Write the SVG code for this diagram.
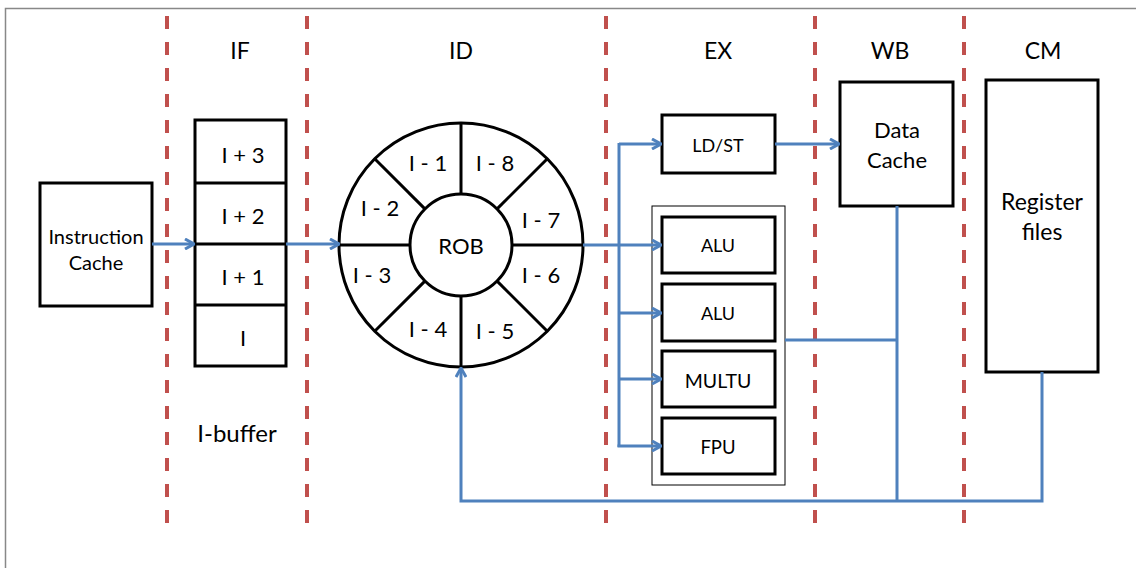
<svg xmlns="http://www.w3.org/2000/svg" width="1136" height="568" viewBox="0 0 1136 568">
<defs>
<style>
.t{font-family:Lato,"Open Sans","Liberation Sans",sans-serif;fill:#000;text-anchor:middle;dominant-baseline:central}
.box{fill:#fff;stroke:#000;stroke-width:3}
.sep{stroke:#c0504d;stroke-width:4;stroke-dasharray:13 13}
.bl{fill:none;stroke:#4f81bd;stroke-width:3}
.blk{stroke:#000;stroke-width:3;fill:none}
</style>
<marker id="ar" viewBox="0 0 12 12" refX="11" refY="6" markerWidth="12" markerHeight="12" markerUnits="userSpaceOnUse" orient="auto">
<path d="M2,1 L11,6 L2,11" fill="none" stroke="#4f81bd" stroke-width="3"/>
</marker>
</defs>
<rect x="0" y="0" width="1136" height="568" fill="#fff"/>
<path d="M5.5,568 V8.5 H1136" fill="none" stroke="#888" stroke-width="1.5"/>
<g id="separators">
<line class="sep" x1="167" y1="16" x2="167" y2="530"/>
<line class="sep" x1="307" y1="16" x2="307" y2="530"/>
<line class="sep" x1="606" y1="16" x2="606" y2="530"/>
<line class="sep" x1="815" y1="16" x2="815" y2="530"/>
<line class="sep" x1="964" y1="16" x2="964" y2="530"/>
</g>
<g id="stage-labels">
<text class="t" x="240" y="50" font-size="23">IF</text>
<text class="t" x="461" y="50" font-size="23">ID</text>
<text class="t" x="718" y="50" font-size="23">EX</text>
<text class="t" x="890" y="50" font-size="23">WB</text>
<text class="t" x="1043" y="50" font-size="23">CM</text>
</g>
<g id="instruction-cache">
<rect class="box" x="40" y="183" width="112" height="123"/>
<text class="t" x="96" y="236" font-size="20">Instruction</text>
<text class="t" x="96" y="262" font-size="20">Cache</text>
</g>
<g id="i-buffer">
<rect class="box" x="195" y="120" width="91" height="246"/>
<line class="blk" x1="195" y1="183" x2="286" y2="183"/>
<line class="blk" x1="195" y1="244" x2="286" y2="244"/>
<line class="blk" x1="195" y1="305" x2="286" y2="305"/>
<text class="t" x="243" y="154" font-size="22">I + 3</text>
<text class="t" x="243" y="215" font-size="22">I + 2</text>
<text class="t" x="243" y="276" font-size="22">I + 1</text>
<text class="t" x="243" y="337" font-size="22">I</text>
<text class="t" x="237" y="432" font-size="24">I-buffer</text>
</g>
<g id="rob">
<circle class="box" cx="461" cy="245" r="122"/>
<line class="blk" x1="512" y1="245" x2="583" y2="245"/>
<line class="blk" x1="410" y1="245" x2="339" y2="245"/>
<line class="blk" x1="461" y1="194" x2="461" y2="123"/>
<line class="blk" x1="461" y1="296" x2="461" y2="367"/>
<line class="blk" x1="497.1" y1="208.9" x2="547.3" y2="158.7"/>
<line class="blk" x1="424.9" y1="208.9" x2="374.7" y2="158.7"/>
<line class="blk" x1="497.1" y1="281.1" x2="547.3" y2="331.3"/>
<line class="blk" x1="424.9" y1="281.1" x2="374.7" y2="331.3"/>
<circle class="box" cx="461" cy="245" r="51"/>
<text class="t" x="461" y="245" font-size="22">ROB</text>
<text class="t" x="428" y="162" font-size="22">I - 1</text>
<text class="t" x="495" y="162" font-size="22">I - 8</text>
<text class="t" x="380" y="207" font-size="22">I - 2</text>
<text class="t" x="541" y="219" font-size="22">I - 7</text>
<text class="t" x="372" y="274" font-size="22">I - 3</text>
<text class="t" x="541" y="274" font-size="22">I - 6</text>
<text class="t" x="428" y="328" font-size="22">I - 4</text>
<text class="t" x="495" y="330" font-size="22">I - 5</text>
</g>
<g id="ldst">
<rect class="box" x="662" y="115" width="113" height="58"/>
<text class="t" x="718" y="145" font-size="18">LD/ST</text>
</g>
<g id="exec-units">
<rect x="652" y="206" width="133" height="279" fill="#fff" stroke="#000" stroke-width="1"/>
</g>
<g id="alu1">
<rect class="box" x="662" y="217" width="113" height="56"/>
<text class="t" x="718" y="245" font-size="18">ALU</text>
</g>
<g id="alu2">
<rect class="box" x="662" y="284" width="113" height="57"/>
<text class="t" x="718" y="313" font-size="18">ALU</text>
</g>
<g id="multu">
<rect class="box" x="662" y="351" width="113" height="56"/>
<text class="t" x="718" y="380" font-size="19.5">MULTU</text>
</g>
<g id="fpu">
<rect class="box" x="662" y="418" width="113" height="56"/>
<text class="t" x="718" y="447" font-size="18.5">FPU</text>
</g>
<g id="data-cache">
<rect class="box" x="840" y="82" width="113" height="124"/>
<text class="t" x="897" y="129" font-size="22">Data</text>
<text class="t" x="897" y="159" font-size="22">Cache</text>
</g>
<g id="register-files">
<rect class="box" x="986" y="80" width="112" height="292"/>
<text class="t" x="1042" y="201" font-size="23">Register</text>
<text class="t" x="1042" y="231" font-size="23">files</text>
</g>
<g id="connectors">
<line class="bl" x1="152" y1="244" x2="194" y2="244" marker-end="url(#ar)"/>
<line class="bl" x1="286" y1="244" x2="339" y2="244" marker-end="url(#ar)"/>
<line class="bl" x1="583" y1="245" x2="661" y2="245" marker-end="url(#ar)"/>
<line class="bl" x1="619" y1="143" x2="619" y2="447"/>
<line class="bl" x1="619" y1="144" x2="661" y2="144" marker-end="url(#ar)"/>
<line class="bl" x1="619" y1="313" x2="661" y2="313" marker-end="url(#ar)"/>
<line class="bl" x1="619" y1="379" x2="661" y2="379" marker-end="url(#ar)"/>
<line class="bl" x1="617.5" y1="446" x2="661" y2="446" marker-end="url(#ar)"/>
<line class="bl" x1="775" y1="144" x2="839" y2="144" marker-end="url(#ar)"/>
<line class="bl" x1="897" y1="206" x2="897" y2="501"/>
<line class="bl" x1="785" y1="340" x2="897" y2="340"/>
<polyline class="bl" points="1042,372 1042,501 461,501 461,368" marker-end="url(#ar)"/>
</g>
</svg>
